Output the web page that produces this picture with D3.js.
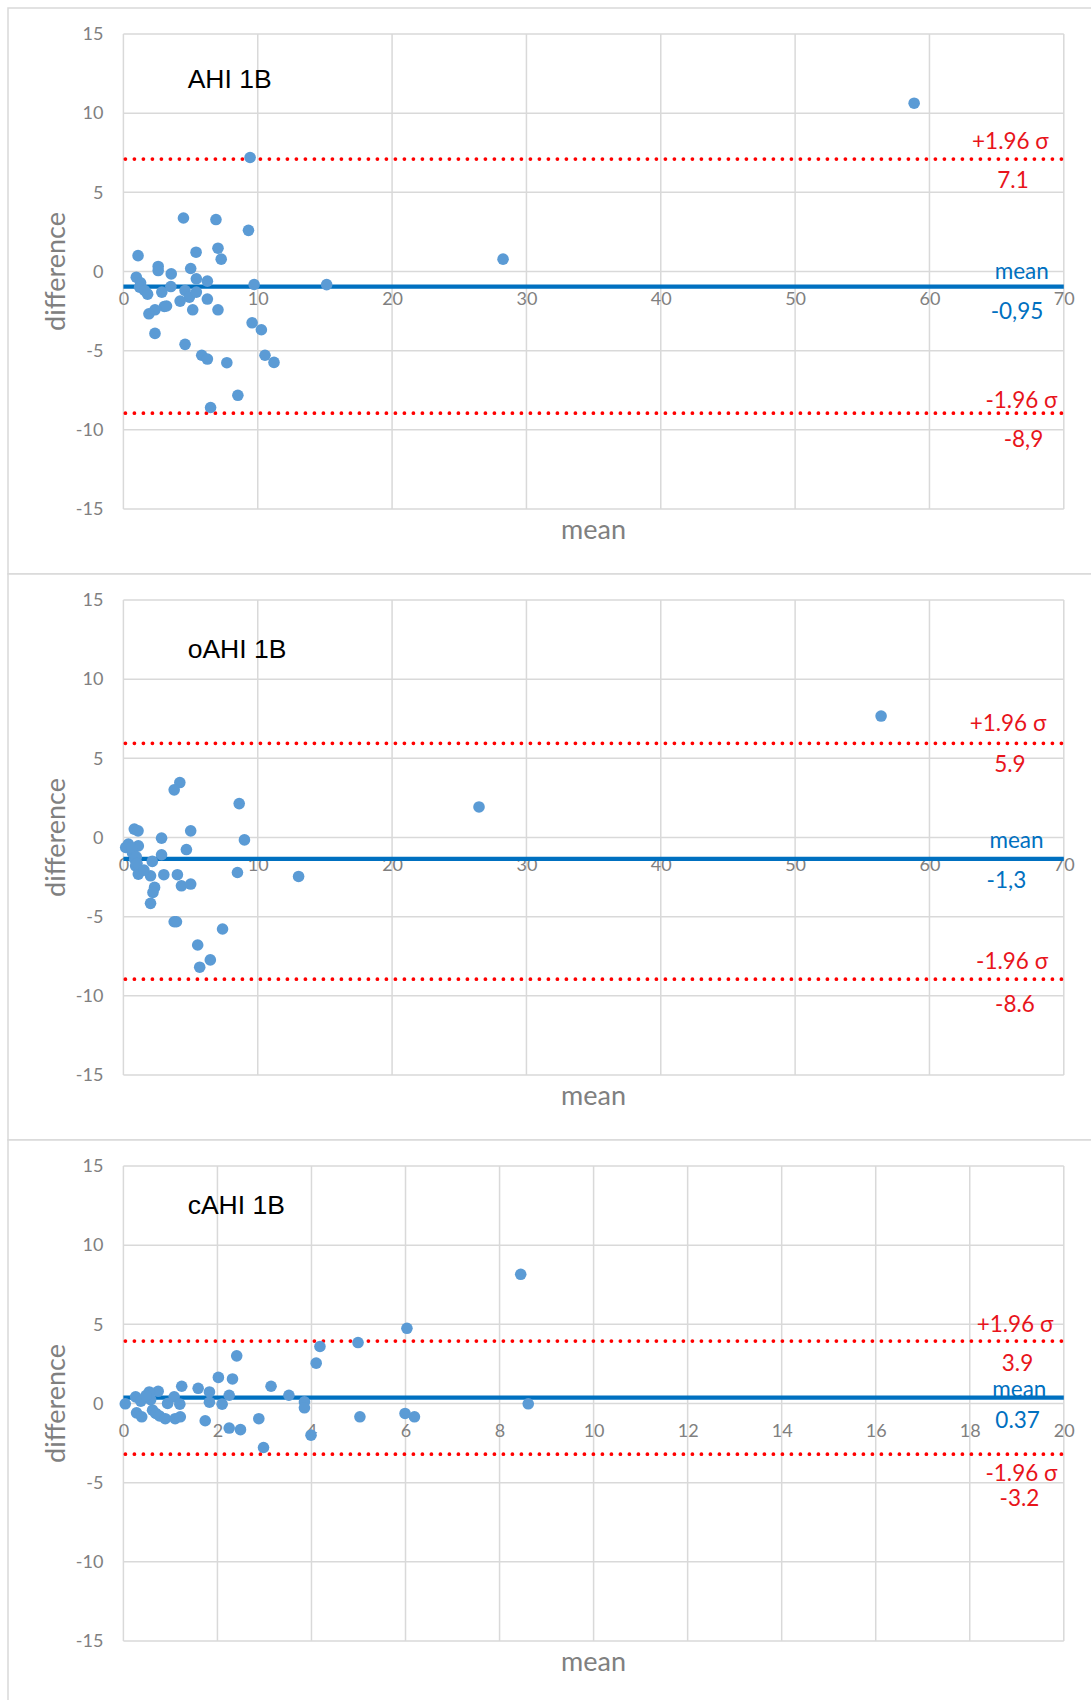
<!DOCTYPE html>
<html>
<head>
<meta charset="utf-8">
<script src="https://cdn.jsdelivr.net/npm/d3@7"></script>
<style>
  html, body { margin: 0; padding: 0; background: #ffffff; }
  svg { display: block; }
</style>
</head>
<body>
<svg id="chart" width="1091" height="1700"></svg>
<script>
// ---------------- DATA ----------------
const panelTitles = ["AHI 1B", "oAHI 1B", "cAHI 1B"];
const xMaxes = [70, 70, 20];
const xSteps = [10, 10, 2];
const yTickValues = [-15, -10, -5, 0, 5, 10, 15];

// mean / +1.96σ / -1.96σ line values (as drawn)
const biasValues  = [-0.95, -1.35, 0.37];
const upperValues = [7.1, 5.95, 3.94];
const lowerValues = [-8.95, -8.95, -3.2];

// label texts
const biasLabels  = ["-0,95", "-1,3", "0.37"];
const upperLabels = ["7.1", "5.9", "3.9"];
const lowerLabels = ["-8,9", "-8.6", "-3.2"];

// [mean, difference]
const ahiPoints = [
  [9.43,7.2],[4.47,3.38],[6.89,3.28],[9.31,2.6],[1.09,1.0],[5.41,1.22],[7.04,1.47],[7.28,0.78],
  [2.59,0.32],[2.59,0.06],[3.56,-0.15],[5.01,0.19],[5.43,-0.46],[6.25,-0.61],[0.96,-0.36],[1.28,-0.71],
  [1.21,-0.99],[1.58,-1.2],[1.80,-1.43],[2.86,-1.3],[3.53,-0.95],[4.59,-1.2],[4.91,-1.62],[5.43,-1.3],
  [4.22,-1.87],[6.25,-1.74],[9.73,-0.82],[5.16,-2.42],[7.04,-2.42],[3.04,-2.21],[3.21,-2.18],[2.35,-2.42],
  [1.90,-2.67],[2.35,-3.91],[4.59,-4.6],[9.58,-3.24],[10.27,-3.68],[5.83,-5.29],[6.25,-5.53],[7.70,-5.76],
  [10.54,-5.29],[11.21,-5.74],[8.52,-7.82],[6.49,-8.59],[28.26,0.78],[15.13,-0.83],[58.86,10.63]
];
const oahiPoints = [
  [4.20,3.47],[3.78,3.01],[8.62,2.14],[0.81,0.53],[1.09,0.42],[5.01,0.42],[2.84,-0.04],[9.01,-0.15],
  [4.69,-0.76],[0.37,-0.42],[0.17,-0.63],[1.11,-0.53],[2.84,-1.09],[2.15,-1.51],[0.67,-0.95],[0.84,-1.37],
  [0.91,-1.79],[1.28,-2.1],[1.11,-2.31],[2.02,-2.42],[3.01,-2.35],[4.02,-2.35],[8.49,-2.21],[13.04,-2.46],
  [4.32,-3.05],[5.01,-2.94],[2.32,-3.15],[2.20,-3.47],[2.02,-4.16],[3.78,-5.32],[3.95,-5.32],[7.38,-5.78],
  [5.53,-6.79],[6.47,-7.73],[5.68,-8.19],[0.62,-0.67],[0.96,-1.22],[1.01,-1.64],[1.53,-2.06],
  [26.47,1.93],[56.4,7.67]
];
const cahiPoints = [
  [4.18,3.6],[4.10,2.55],[2.41,3.01],[2.02,1.65],[2.32,1.55],[1.24,1.09],[1.59,0.96],[1.83,0.73],
  [3.14,1.09],[2.25,0.52],[3.52,0.52],[3.85,0.10],[3.85,-0.27],[1.83,0.08],[2.10,-0.04],[0.74,0.77],
  [0.55,0.73],[0.26,0.42],[0.04,-0.02],[0.37,0.15],[0.58,0.25],[1.08,0.42],[0.94,0.0],[1.2,-0.04],
  [0.28,-0.59],[0.39,-0.84],[0.62,-0.42],[0.69,-0.63],[0.77,-0.79],[0.89,-0.96],[1.10,-0.96],[1.21,-0.84],
  [1.74,-1.09],[2.88,-0.96],[2.25,-1.55],[2.49,-1.65],[2.98,-2.78],[3.99,-2.0],[0.48,0.5],
  [4.99,3.85],[6.03,4.75],[8.45,8.16],[5.03,-0.84],[5.99,-0.63],[6.19,-0.84],[8.61,-0.02]
];
const allPoints = [ahiPoints, oahiPoints, cahiPoints];

// ---------------- LAYOUT / STYLE ----------------
const plotLeft = 123.4, plotRight = 1063.8;
const panelTops = [8, 574, 1140];
const panelHeight = 566;
const plotTopOffset = 26, plotHeight = 475;
const titleBaselines = [80.3, 84.3, 74.3];

// annotation placements: [x of σ-label (end), dy, x of value (middle), dy]
const labelLayout = [
  { up: [1048.8, -10, 1013, 29.4], mean: [1048.8, -8, 1017, 32], low: [1057.5, -5.4, 1023.5, 33.7] },
  { up: [1046.4, -12.7, 1009.9, 29], mean: [1043.6, -11, 1006.4, 29], low: [1048.1, -10.7, 1015, 33] },
  { up: [1053.4, -9.2, 1017.5, 30], mean: [1046.4, -0.7, 1017.6, 30.7], low: [1057.5, 26.6, 1019.5, 51.6] }
];

const calib = "Lato, 'Open Sans', sans-serif";
const gridColor = "#d9d9d9";
const tickColor = "#808080";
const redColor = "#ff0000";
const redText = "#e8141b";
const blueLine = "#0070c0";
const dotColor = "#5b9bd5";
const plainFmt = d => String(d);

const svg = d3.select("#chart");
svg.append("rect").attr("width", 1091).attr("height", 1700).attr("fill", "#fff");

panelTitles.forEach((title, i) => {
  const top = panelTops[i];
  const pTop = top + plotTopOffset;
  const pBot = pTop + plotHeight;
  const x = d3.scaleLinear().domain([0, xMaxes[i]]).range([plotLeft, plotRight]);
  const y = d3.scaleLinear().domain([-15, 15]).range([pBot, pTop]);
  const xTickValues = d3.range(0, xMaxes[i] + 0.001, xSteps[i]);

  const g = svg.append("g");

  // panel frame
  g.append("rect")
    .attr("x", 8).attr("y", top)
    .attr("width", 1100).attr("height", panelHeight)
    .attr("fill", "#fff").attr("stroke", gridColor).attr("stroke-width", 1.5);

  // gridlines
  g.append("g").selectAll("line").data(yTickValues).join("line")
    .attr("x1", plotLeft).attr("x2", plotRight)
    .attr("y1", d => y(d)).attr("y2", d => y(d))
    .attr("stroke", gridColor).attr("stroke-width", 1.5);
  g.append("g").selectAll("line").data(xTickValues).join("line")
    .attr("x1", d => x(d)).attr("x2", d => x(d))
    .attr("y1", pTop).attr("y2", pBot)
    .attr("stroke", gridColor).attr("stroke-width", 1.5);

  // y axis labels
  const yAxis = g.append("g").attr("transform", `translate(${plotLeft},0)`)
    .call(d3.axisLeft(y).tickValues(yTickValues).tickSize(0).tickPadding(20).tickFormat(plainFmt));
  yAxis.select(".domain").remove();
  yAxis.selectAll("text").attr("fill", tickColor).style("font-family", calib).style("font-size", "18px");

  // x axis labels at y=0
  const xAxis = g.append("g").attr("transform", `translate(0,${y(0)})`)
    .call(d3.axisBottom(x).tickValues(xTickValues).tickSize(0).tickPadding(21).tickFormat(plainFmt));
  xAxis.select(".domain").remove();
  xAxis.selectAll("text").attr("fill", tickColor).style("font-family", calib).style("font-size", "18px");

  // axis titles
  g.append("text")
    .attr("x", (plotLeft + plotRight) / 2).attr("y", pBot + 29.5)
    .attr("text-anchor", "middle").attr("fill", tickColor)
    .style("font-family", calib).style("font-size", "27px")
    .text("mean");
  g.append("text")
    .attr("transform", `translate(65,${(pTop + pBot) / 2}) rotate(-90)`)
    .attr("text-anchor", "middle").attr("fill", tickColor)
    .style("font-family", calib).style("font-size", "27px")
    .text("difference");

  // annotation labels
  const L = labelLayout[i];
  const ann = [
    { t: "+1.96 σ", x: L.up[0], y: y(upperValues[i]) + L.up[1], a: "end", c: redText },
    { t: upperLabels[i], x: L.up[2], y: y(upperValues[i]) + L.up[3], a: "middle", c: redText },
    { t: "mean", x: L.mean[0], y: y(biasValues[i]) + L.mean[1], a: "end", c: blueLine },
    { t: biasLabels[i], x: L.mean[2], y: y(biasValues[i]) + L.mean[3], a: "middle", c: blueLine },
    { t: "-1.96 σ", x: L.low[0], y: y(lowerValues[i]) + L.low[1], a: "end", c: redText },
    { t: lowerLabels[i], x: L.low[2], y: y(lowerValues[i]) + L.low[3], a: "middle", c: redText }
  ];
  g.append("g").selectAll("text").data(ann).join("text")
    .attr("x", d => d.x).attr("y", d => d.y)
    .attr("text-anchor", d => d.a).attr("fill", d => d.c)
    .style("font-family", calib).style("font-size", "22.5px")
    .text(d => d.t);

  // limit lines
  [upperValues[i], lowerValues[i]].forEach(v => {
    g.append("line")
      .attr("x1", plotLeft + 2).attr("x2", plotRight)
      .attr("y1", y(v)).attr("y2", y(v))
      .attr("stroke", redColor).attr("stroke-width", 3.8)
      .attr("stroke-linecap", "round").attr("stroke-dasharray", "0 9");
  });
  g.append("line")
    .attr("x1", plotLeft).attr("x2", plotRight)
    .attr("y1", y(biasValues[i])).attr("y2", y(biasValues[i]))
    .attr("stroke", blueLine).attr("stroke-width", 4.2);

  // points
  g.append("g").selectAll("circle").data(allPoints[i]).join("circle")
    .attr("cx", d => x(d[0])).attr("cy", d => y(d[1]))
    .attr("r", 5.8).attr("fill", dotColor);

  // title
  g.append("text")
    .attr("x", 187.7).attr("y", top + titleBaselines[i])
    .attr("fill", "#000")
    .style("font-family", "'Liberation Sans', Arial, sans-serif").style("font-size", "26.5px")
    .text(title);
});
</script>
</body>
</html>
